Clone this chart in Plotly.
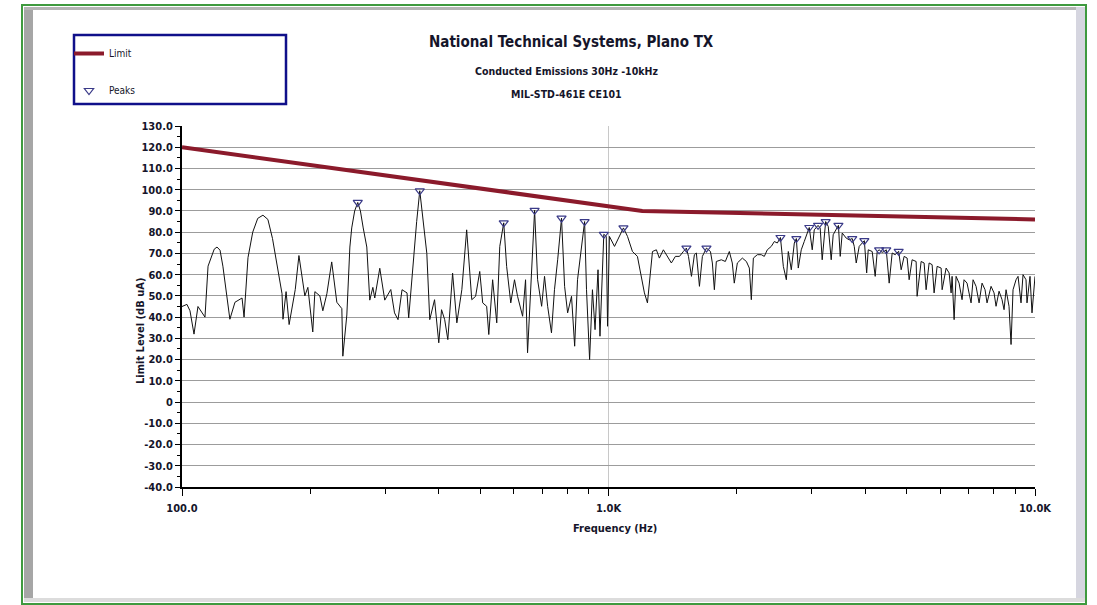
import plotly.graph_objects as go

# ---------------- data ----------------
trace_freq = [
    100, 102.7, 104.4, 106.7, 109, 113.2, 115.1, 117, 119, 120.8, 122.8, 124.7, 129.5, 133.1, 138.3, 139.8,
    142.8, 146.5, 150.5, 154.8, 159, 163, 167, 171.6, 172.5, 175.4, 178.3, 184.3, 188, 194.1, 197.3,
    202.6, 204.9, 210.5, 213.9, 218.6, 224.4, 230.7, 237, 238.3, 243.5, 247.5, 250, 254, 258.3, 262,
    266, 271.2, 275.6, 280.2, 283.1, 290.9, 298.8, 308.7,
    315, 321, 328, 337, 340, 348, 355, 361, 367, 375, 381, 391, 400, 406, 413, 420, 431, 441, 453,
    465, 478, 488, 499, 507, 518, 524, 535, 547, 556, 568, 577, 590, 602, 612, 629, 639, 646, 660,
    671, 682, 697, 708, 720, 735, 747, 760, 776, 789, 802, 819, 833, 846, 865, 879, 888, 903, 917,
    930, 945, 955, 975, 988, 995, 1005, 1033, 1061, 1084, 1108, 1138, 1169, 1195, 1214, 1234, 1254,
    1268, 1295, 1316, 1345, 1375, 1404, 1435, 1467, 1498, 1523, 1540, 1565, 1590, 1607, 1634, 1660,
    1697, 1734, 1752, 1771, 1790, 1839, 1879, 1920, 1951, 1972, 2005, 2060, 2105, 2139, 2162, 2186,
    2233, 2282, 2319, 2357, 2408, 2448, 2488, 2530, 2570, 2612, 2640, 2683, 2727, 2757, 2786, 2831,
    2877, 2924, 2956, 3004, 3037, 3100, 3136, 3170, 3230, 3275, 3328, 3364, 3460, 3494, 3532, 3609,
    3668, 3728, 3769, 3809, 3871, 3980, 4030, 4064, 4152, 4220, 4266, 4310, 4380, 4430, 4480, 4551,
    4625, 4701, 4790, 4855, 4934, 5014, 5069, 5151, 5264, 5292, 5408, 5495, 5555, 5646, 5738, 5800,
    5895, 6024, 6057, 6189, 6290, 6358, 6392, 6462, 6531, 6637, 6745, 6818, 6929, 7081, 7158, 7275,
    7394, 7514, 7636, 7719, 7888, 8017, 8104, 8236, 8370, 8461, 8553, 8692, 8787, 8882, 9027, 9125,
    9273, 9374, 9526, 9578, 9734, 9840, 10000,
]
trace_level = [
    45, 46, 43, 32, 45, 40, 64, 68, 72, 73, 71.5, 64, 39, 47, 49, 40,
    68, 80, 86.5, 88, 86, 77, 64, 51, 39, 52, 36.5, 53, 69, 50, 54,
    33, 52, 50, 43, 51, 66, 47, 44, 21.6, 41, 73, 82, 90, 94, 90,
    82, 73, 48, 54, 49, 63, 48, 53,
    42, 38.8, 52.9, 51.4, 39.6, 65.5, 85, 99.5, 86, 70, 38.8, 48.2, 27.9, 43.5, 38.8, 29.4, 60.7, 37.3, 52.9,
    81.1, 48.2, 49.8, 61.5, 46.7, 45.1, 31.8, 57.6, 37.3, 73.3, 84.4, 63.9, 46.7, 57.6, 49.8, 40.4, 57.6, 23.2, 57.6,
    90.3, 57.6, 45.1, 59.2, 45.1, 32.6, 52.9, 67, 86.6, 54.5, 42, 49.8, 26.3, 57.6, 73.3, 85, 52.9, 20, 52.9,
    34.1, 62.3, 31, 79, 78, 35.7, 78, 73.3, 78, 82, 78, 70.9, 68.6, 59.2, 51.4, 46.7, 60.8,
    70.9, 71.7, 67.8, 71.7, 68.6, 65.5, 68.6, 68.6, 70.9, 72.5, 68.6, 59.2, 69.4, 70.2, 54.5, 68.6,
    72.5, 70.9, 65.5, 52.9, 66.2, 67, 66.2, 70.9, 65.5, 56, 65.5, 67.8, 66.2, 63.1, 48.2, 67.8,
    69.4, 69.4, 68.6, 71.7, 73.3, 75.6, 74.9, 77.5, 63.9, 57.6, 70.9, 62.3, 74.9, 77, 63.1, 71.7,
    75.6, 79.6, 82.2, 71.7, 81.1, 83.2, 81.9, 67, 85, 82.7, 67, 78.8, 83.2, 68.6, 79.6, 77.2,
    76.4, 77, 73.3, 65.5, 73.3, 76, 60.8, 71.7, 70.9, 59.2, 70.9, 71.7, 70.5, 70.9, 71.7, 56,
    70.2, 69.4, 71, 62.3, 68.6, 67.8, 57.6, 67, 66.2, 49.8, 66.2, 65.5, 52.9, 65.5, 64.7, 51.4,
    63.9, 63.1, 52.9, 63.1, 60.8, 51.4, 59.2, 38.8, 59.2, 56, 48.2, 57.6, 56, 46.7, 57.6, 54.5,
    46.7, 56, 52.9, 46.7, 54.5, 51.4, 45.1, 52.2, 48.2, 43.5, 52.9, 45.1, 27.1, 52.9, 57.6, 59.2,
    46.7, 60, 57.6, 46.7, 59.2, 42, 59.2,
]

limit_freq = [100, 1200, 10000]
limit_level = [120, 90, 86]

peak_freq = [258.3, 361, 568, 671, 776, 879, 975, 1084, 1523, 1697, 2530, 2757,
             2956, 3100, 3230, 3460, 3728, 3980, 4310, 4480, 4790]
peak_level = [94, 99.5, 84.4, 90.3, 86.6, 85, 79, 82, 72.5, 72.5, 77.5, 77,
              82.2, 83.2, 85, 83.2, 77, 76, 71.7, 71.7, 71]

y_tickvals = list(range(-40, 131, 10))
y_ticktext = ["0" if v == 0 else f"{v:.1f}" for v in y_tickvals]
x_tickvals = [100, 1000, 10000]
x_ticktext = ["100.0", "1.0K", "10.0K"]
x_minor = [200, 300, 400, 500, 600, 700, 800, 900,
           2000, 3000, 4000, 5000, 6000, 7000, 8000, 9000]

title_text = "National Technical Systems, Plano TX"
sub1_text = "Conducted Emissions 30Hz -10kHz"
sub2_text = "MIL-STD-461E CE101"

# ---------------- layout constants ----------------
W, H = 1097, 605
L, R, T, B = 182, 1035, 126, 487   # plot area in pixels

def px(x):
    return (x - L) / (R - L)

def py(y):
    return (B - y) / (B - T)

NARROW = "Liberation Sans Narrow, Arial Narrow, DejaVu Sans Condensed, sans-serif"
TXT = "#15152a"

fig = go.Figure()

fig.add_trace(go.Scatter(
    x=trace_freq, y=trace_level, mode="lines",
    line=dict(color="#111111", width=1), showlegend=False, hoverinfo="x+y",
))
fig.add_trace(go.Scatter(
    x=limit_freq, y=limit_level, mode="lines", name="Limit",
    line=dict(color="#8b1a2b", width=4), legendgroup="a",
))
fig.add_trace(go.Scatter(
    x=peak_freq, y=peak_level, mode="markers", name="Peaks",
    marker=dict(symbol="triangle-down-open", size=8, color="#3a3a88",
                line=dict(width=1.2, color="#3a3a88")),
    legendgroup="b",
))

shapes = []
# outer green frame + bevel
shapes.append(dict(type="rect", xref="paper", yref="paper",
                   x0=px(24), x1=px(33), y0=py(602), y1=py(7),
                   fillcolor="#a6a6a6", line=dict(width=0), layer="below"))
shapes.append(dict(type="rect", xref="paper", yref="paper",
                   x0=px(24), x1=px(1085), y0=py(10), y1=py(7),
                   fillcolor="#b4b4b4", line=dict(width=0), layer="below"))
shapes.append(dict(type="rect", xref="paper", yref="paper",
                   x0=px(1076), x1=px(1085), y0=py(602), y1=py(7),
                   fillcolor="#d6d6e0", line=dict(width=0), layer="below"))
shapes.append(dict(type="rect", xref="paper", yref="paper",
                   x0=px(24), x1=px(1085), y0=py(602), y1=py(598),
                   fillcolor="#dcdcdc", line=dict(width=0), layer="below"))
shapes.append(dict(type="rect", xref="paper", yref="paper",
                   x0=px(22), x1=px(1086), y0=py(604), y1=py(5),
                   line=dict(color="#3f9a3f", width=2)))
# legend box
shapes.append(dict(type="rect", xref="paper", yref="paper",
                   x0=px(74), x1=px(286), y0=py(104), y1=py(35),
                   line=dict(color="#10108a", width=2.5)))

annotations = [
    dict(text=f"<b>{title_text}</b>", x=px(571), y=py(42), xref="paper", yref="paper",
         showarrow=False, xanchor="center", yanchor="middle",
         font=dict(family=NARROW, size=15, color=TXT)),
    dict(text=sub1_text, x=px(566), y=py(71), xref="paper", yref="paper",
         showarrow=False, xanchor="center", yanchor="middle",
         font=dict(family=NARROW, size=10.5, color=TXT, weight="bold")),
    dict(text=sub2_text, x=px(566), y=py(94), xref="paper", yref="paper",
         showarrow=False, xanchor="center", yanchor="middle",
         font=dict(family=NARROW, size=10.5, color=TXT, weight="bold")),
    dict(text="Limit Level (dB uA)", x=px(140), y=py(331), xref="paper", yref="paper",
         showarrow=False, xanchor="center", yanchor="middle", textangle=-90,
         font=dict(family=NARROW, size=11, color=TXT, weight="bold")),
    dict(text="Frequency (Hz)", x=px(615), y=py(528), xref="paper", yref="paper",
         showarrow=False, xanchor="center", yanchor="middle",
         font=dict(family=NARROW, size=11, color=TXT, weight="bold")),
]

fig.update_layout(
    width=W, height=H,
    margin=dict(l=L, r=W - R, t=T, b=H - B, pad=0),
    paper_bgcolor="white", plot_bgcolor="white",
    shapes=shapes, annotations=annotations,
    showlegend=True,
    legend=dict(x=px(69), y=py(39), xanchor="left", yanchor="top",
                bgcolor="rgba(0,0,0,0)", borderwidth=0,
                traceorder="grouped", tracegroupgap=18, itemwidth=30,
                font=dict(family=NARROW, size=10, color=TXT)),
    xaxis=dict(
        type="log", range=[2, 4],
        tickmode="array", tickvals=x_tickvals, ticktext=x_ticktext,
        ticks="outside", ticklen=7, tickwidth=1, tickcolor="#000",
        showline=True, linecolor="#000", linewidth=2,
        showgrid=True, gridcolor="#c8c8c8", gridwidth=1,
        zeroline=False, ticklabelstandoff=3,
        tickfont=dict(family=NARROW, size=11, color=TXT, weight="bold"),
        minor=dict(tickvals=x_minor, ticks="outside", ticklen=5,
                   tickcolor="#000", tickwidth=1, showgrid=False),
    ),
    yaxis=dict(
        range=[-40, 130],
        tickmode="array", tickvals=y_tickvals, ticktext=y_ticktext,
        ticks="outside", ticklen=5, tickwidth=1, tickcolor="#000",
        showline=True, linecolor="#000", linewidth=2,
        showgrid=True, gridcolor="#9c9c9c", gridwidth=1,
        zeroline=False,
        tickfont=dict(family=NARROW, size=11, color=TXT, weight="bold"),
        minor=dict(dtick=5, tick0=0, ticks="outside", ticklen=3,
                   tickcolor="#000", tickwidth=1, showgrid=False),
    ),
)

fig.write_html("out.html")
